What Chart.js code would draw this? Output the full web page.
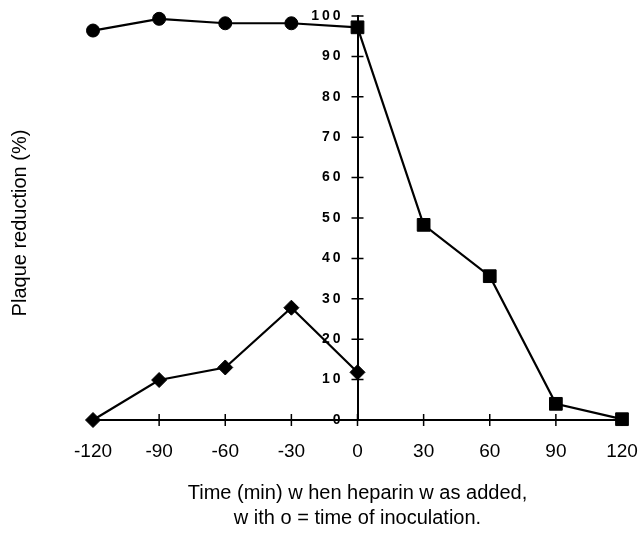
<!DOCTYPE html>
<html>
<head>
<meta charset="utf-8">
<script src="https://cdn.jsdelivr.net/npm/chart.js@4.4.1/dist/chart.umd.min.js"></script>
<style>
  html, body { margin: 0; padding: 0; background: #fff; }
  #wrap { width: 640px; height: 533px; }
</style>
</head>
<body>
<div id="wrap"><canvas id="plaque"></canvas></div>
<script>
// time (min) relative to inoculation
const xTicks = [-120, -90, -60, -30, 0, 30, 60, 90, 120];
const yTicks = [0, 10, 20, 30, 40, 50, 60, 70, 80, 90, 100];

const preTimes = [-120, -90, -60, -30, 0];
const postTimes = [0, 30, 60, 90, 120];

// circles: heparin before inoculation (the last point is the square at 0)
const circleValues = [96.4, 99.3, 98.2, 98.2, 97.2];
// squares: heparin after inoculation
const squareValues = [97.2, 48.3, 35.6, 4.0, 0.2];
// diamonds
const diamondValues = [0, 9.9, 13.0, 27.8, 11.8];

const toPoints = (xs, ys) => xs.map((x, i) => ({ x, y: ys[i] }));

// axis tick marks that cross the axis line, like the original figure
const crossTicks = {
    id: 'crossTicks',
    afterDraw(chart) {
        const { ctx, scales: { x, y } } = chart;
        const x0 = x.getPixelForValue(0);
        const y0 = y.getPixelForValue(0);
        ctx.save();
        ctx.strokeStyle = '#000';
        ctx.lineWidth = 1.5;
        ctx.beginPath();
        xTicks.forEach(v => {
            const px = x.getPixelForValue(v);
            ctx.moveTo(px, y0 - 6);
            ctx.lineTo(px, y0 + 6);
        });
        yTicks.forEach(v => {
            const py = y.getPixelForValue(v);
            ctx.moveTo(x0 - 6, py);
            ctx.lineTo(x0 + 6, py);
        });
        ctx.stroke();
        ctx.restore();
    }
};

// axis titles sit at the edges of the figure, not next to the centred axis
const axisTitles = {
    id: 'axisTitles',
    afterDraw(chart) {
        const { ctx, chartArea } = chart;
        const cx = (chartArea.left + chartArea.right) / 2;
        ctx.save();
        ctx.fillStyle = '#000';
        ctx.font = '20px "Liberation Sans", Arial, sans-serif';
        ctx.textAlign = 'center';
        ctx.textBaseline = 'middle';
        ctx.fillText('Time (min) w hen heparin w as added,', cx, 493);
        ctx.fillText('w ith o = time of inoculation.', cx, 518);
        ctx.translate(20, 223);
        ctx.rotate(-Math.PI / 2);
        ctx.fillText('Plaque reduction (%)', 0, 0);
        ctx.restore();
    }
};

// the y tick numbers are printed with wide letter spacing, set off from the axis
const spacedYLabels = {
    id: 'spacedYLabels',
    beforeDraw(chart) {
        const y = chart.scales.y;
        if (y._spaced) return;
        const orig = y.drawLabels.bind(y);
        y.drawLabels = function (area) {
            chart.ctx.save();
            chart.ctx.letterSpacing = '3px';
            chart.ctx.translate(-14, 0);
            orig(area);
            chart.ctx.restore();
        };
        y._spaced = true;
    }
};

const marker = { borderColor: '#000', backgroundColor: '#000', borderWidth: 2.2, pointBorderWidth: 1, clip: false };

new Chart(document.getElementById('plaque'), {
    type: 'line',
    data: {
        datasets: [
            {
                ...marker,
                data: toPoints(preTimes, circleValues),
                pointStyle: 'circle',
                pointRadius: [6.5, 6.5, 6.5, 6.5, 0]
            },
            {
                ...marker,
                data: toPoints(postTimes, squareValues),
                pointStyle: 'rect',
                pointRadius: 9
            },
            {
                ...marker,
                data: toPoints(preTimes, diamondValues),
                pointStyle: 'rectRot',
                pointRadius: 7.5
            }
        ]
    },
    options: {
        responsive: true,
        maintainAspectRatio: false,
        animation: false,
        layout: { padding: { left: 93, right: 18, top: 16, bottom: 113 } },
        plugins: { legend: { display: false }, tooltip: { enabled: false } },
        scales: {
            x: {
                type: 'linear',
                position: { y: 0 },
                min: -120,
                max: 120,
                afterBuildTicks: s => { s.ticks = xTicks.map(v => ({ value: v })); },
                afterFit: s => { s.paddingLeft = 0; s.paddingRight = 0; },
                grid: { display: false },
                border: { display: true, color: '#000', width: 2 },
                ticks: {
                    color: '#000',
                    padding: 12,
                    maxRotation: 0,
                    autoSkip: false,
                    font: { family: '"Liberation Sans", Arial, sans-serif', size: 19 }
                }
            },
            y: {
                type: 'linear',
                position: { x: 0 },
                min: 0,
                max: 100,
                afterBuildTicks: s => { s.ticks = yTicks.map(v => ({ value: v })); },
                afterFit: s => { s.paddingTop = 0; s.paddingBottom = 0; },
                grid: { display: false },
                border: { display: true, color: '#000', width: 2 },
                ticks: {
                    color: '#000',
                    autoSkip: false,
                    font: { family: '"Liberation Sans", Arial, sans-serif', size: 14, weight: 'bold' }
                }
            }
        }
    },
    plugins: [crossTicks, axisTitles, spacedYLabels]
});
</script>
</body>
</html>
